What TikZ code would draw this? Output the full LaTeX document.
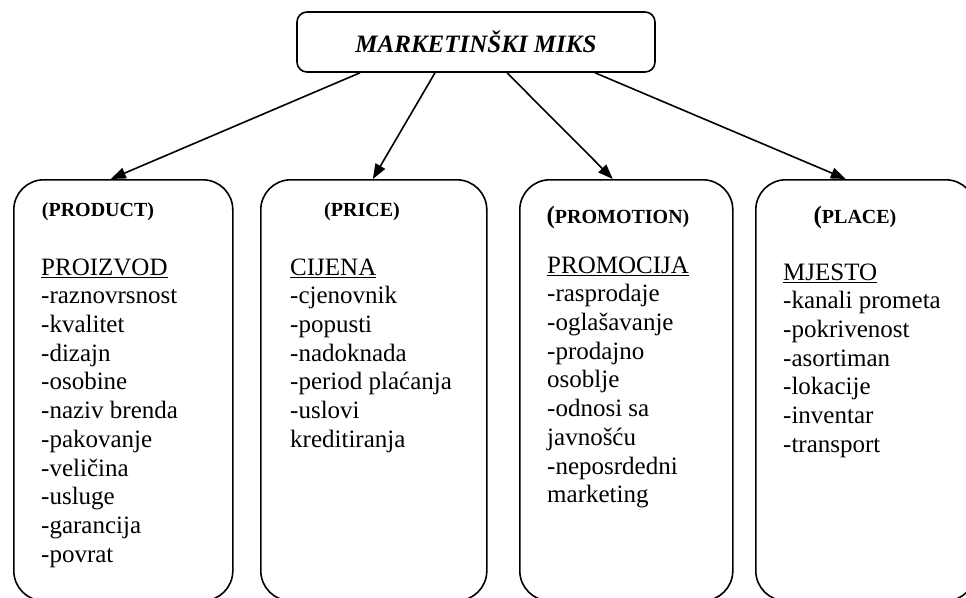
\documentclass[tikz,border=0pt]{standalone}
\usepackage{fontspec}
\setmainfont{Liberation Serif}
\usetikzlibrary{arrows.meta, positioning}

\begin{document}
\begin{tikzpicture}[x=1pt, y=-1pt,
        mixbox/.style={draw, line width=1.6pt, rounded corners=10pt, minimum width=358pt, minimum height=60pt, font=\fontsize{25}{30}\selectfont\bfseries\itshape},
        pbox/.style={draw, line width=1.6pt, rounded corners=30pt, minimum height=421pt, anchor=north west, inner sep=0pt},
        head/.style={font=\fontsize{20}{24}\selectfont\bfseries, inner sep=0pt},
        items/.style={font=\fontsize{25}{28.7}\selectfont, align=left, anchor=north west, inner sep=0pt},
        arrow/.style={-{Triangle[length=15pt, width=11pt]}, line width=1.6pt}
    ]
        \useasboundingbox (0,0) rectangle (966,597);
        \clip (0,0) rectangle (966,597);

        \node[mixbox] (mix) at (476,42) {MARKETINŠKI MIKS};

        \node[pbox, minimum width=219pt] (product) at (13,179) {};
        \node[pbox, minimum width=226pt] (price) at (260,179) {};
        \node[pbox, minimum width=213pt] (promotion) at (519,179) {};
        \node[pbox, minimum width=220pt] (place) at (755,179) {};

        \node[head] (producthd) at (98,212) {(PRODUCT)};
        \node[head] (pricehd) at (362,212) {(PRICE)};
        \node[head] (promotionhd) at (618,217) {{\fontsize{25}{28}\selectfont(}PROMOTION)};
        \node[head] (placehd) at (855,217) {{\fontsize{25}{28}\selectfont(}PLACE)};

        % first baseline = y + strut height (20.1pt)
        \node[items] (productlist) at (41,254.9) {\strut\underline{PROIZVOD}\\-raznovrsnost\\-kvalitet\\-dizajn\\-osobine\\-naziv brenda\\-pakovanje\\-veličina\\-usluge\\-garancija\\-povrat};
        \node[items] (pricelist) at (290,254.9) {\strut\underline{CIJENA}\\-cjenovnik\\-popusti\\-nadoknada\\-period plaćanja\\-uslovi\\kreditiranja};
        \node[items] (promotionlist) at (547,252.9) {\strut\underline{PROMOCIJA}\\-rasprodaje\\-oglašavanje\\-prodajno\\osoblje\\-odnosi sa\\javnošću\\-neposrdedni\\marketing};
        \node[items] (placelist) at (783,259.9) {\strut\underline{MJESTO}\\-kanali prometa\\-pokrivenost\\-asortiman\\-lokacije\\-inventar\\-transport};

        \draw[arrow] ([xshift=-116pt]mix.south) -- ([xshift=-12.5pt]product.north);
        \draw[arrow] ([xshift=-41pt]mix.south) -- ([xshift=-1pt]price.north);
        \draw[arrow] ([xshift=31pt]mix.south) -- ([xshift=-13.5pt]promotion.north);
        \draw[arrow] ([xshift=119pt]mix.south) -- ([xshift=-20pt]place.north);
    \end{tikzpicture}
\end{document}
